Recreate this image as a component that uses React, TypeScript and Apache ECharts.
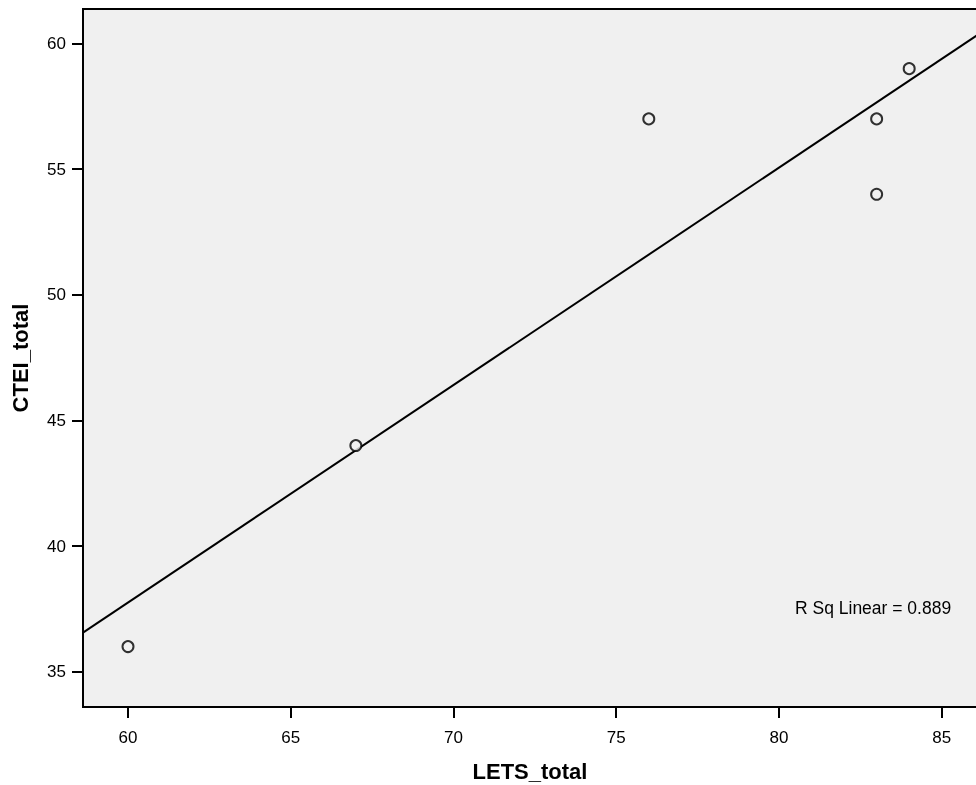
import React, { useEffect, useRef } from "react";
import * as echarts from "echarts";

const letsTotal = [60, 67, 76, 83, 83, 84];
const cteiTotal = [36, 44, 57, 57, 54, 59];
const xTicks = [60, 65, 70, 75, 80, 85];
const yTicks = [35, 40, 45, 50, 55, 60];
const rSqLabel = "R Sq Linear = 0.889";
const xTitle = "LETS_total";
const yTitle = "CTEI_total";

const X_MIN = 58.6175;
const X_MAX = 86.36;
const Y_MIN = 33.595;
const Y_MAX = 61.373;

function fitLine(xs: number[], ys: number[]) {
  const n = xs.length;
  const mx = xs.reduce((a, b) => a + b, 0) / n;
  const my = ys.reduce((a, b) => a + b, 0) / n;
  let sxy = 0, sxx = 0;
  for (let i = 0; i < n; i++) {
    sxy += (xs[i] - mx) * (ys[i] - my);
    sxx += (xs[i] - mx) * (xs[i] - mx);
  }
  const slope = sxy / sxx;
  return { slope, intercept: my - slope * mx };
}

export default function App() {
  const ref = useRef<HTMLDivElement>(null);
  useEffect(() => {
    if (!ref.current) return;
    const chart = echarts.init(ref.current, null, { renderer: "svg" });
    const { slope, intercept } = fitLine(letsTotal, cteiTotal);
    const lineData = [X_MIN, X_MAX].map((x) => [x, intercept + slope * x]);
    const points = letsTotal.map((x, i) => [x, cteiTotal[i]]);
    const font = "'Liberation Sans', Arial, sans-serif";
    chart.setOption({
      animation: false,
      grid: {
        left: 83,
        top: 9,
        right: -10,
        bottom: 78,
        outerBoundsMode: "none",
        containLabel: false,
        show: true,
        backgroundColor: "#f0f0f0",
        borderColor: "#000000",
        borderWidth: 2,
      },
      xAxis: {
        type: "value",
        min: X_MIN,
        max: X_MAX,
        axisLine: { show: true, lineStyle: { color: "#000", width: 2 } },
        axisTick: {
          show: true,
          length: 11,
          customValues: xTicks,
          lineStyle: { color: "#000", width: 2 },
        },
        axisLabel: {
          customValues: xTicks,
          margin: 22,
          color: "#000",
          fontSize: 17,
          fontFamily: font,
        },
        splitLine: { show: false },
      },
      yAxis: {
        type: "value",
        min: Y_MIN,
        max: Y_MAX,
        axisLine: { show: true, lineStyle: { color: "#000", width: 2 } },
        axisTick: {
          show: true,
          length: 11,
          customValues: yTicks,
          lineStyle: { color: "#000", width: 2 },
        },
        axisLabel: {
          customValues: yTicks,
          margin: 17,
          color: "#000",
          fontSize: 17,
          fontFamily: font,
        },
        splitLine: { show: false },
      },
      graphic: [
        {
          type: "text",
          x: 530,
          y: 771,
          style: {
            text: xTitle,
            fontSize: 22,
            fontWeight: "bold",
            fontFamily: font,
            fill: "#000",
            align: "center",
            verticalAlign: "middle",
          },
        },
        {
          type: "text",
          x: 20,
          y: 358,
          rotation: Math.PI / 2,
          style: {
            text: yTitle,
            fontSize: 22,
            fontWeight: "bold",
            fontFamily: font,
            fill: "#000",
            align: "center",
            verticalAlign: "middle",
          },
        },
        {
          type: "text",
          x: 795,
          y: 608,
          style: {
            text: rSqLabel,
            fontSize: 17.5,
            fontFamily: font,
            fill: "#000",
            align: "left",
            verticalAlign: "middle",
          },
        },
      ],
      series: [
        {
          type: "line",
          data: lineData,
          symbol: "none",
          lineStyle: { color: "#000", width: 2 },
          silent: true,
          z: 2,
        },
        {
          type: "scatter",
          data: points,
          symbol: "circle",
          symbolSize: 11,
          itemStyle: { color: "#f0f0f0", borderColor: "#000", borderWidth: 2 },
          z: 3,
        },
      ],
    });
    return () => chart.dispose();
  }, []);
  return (
    <div
      ref={ref}
      style={{ position: "fixed", left: 0, top: 0, width: 976, height: 785 }}
    />
  );
}
